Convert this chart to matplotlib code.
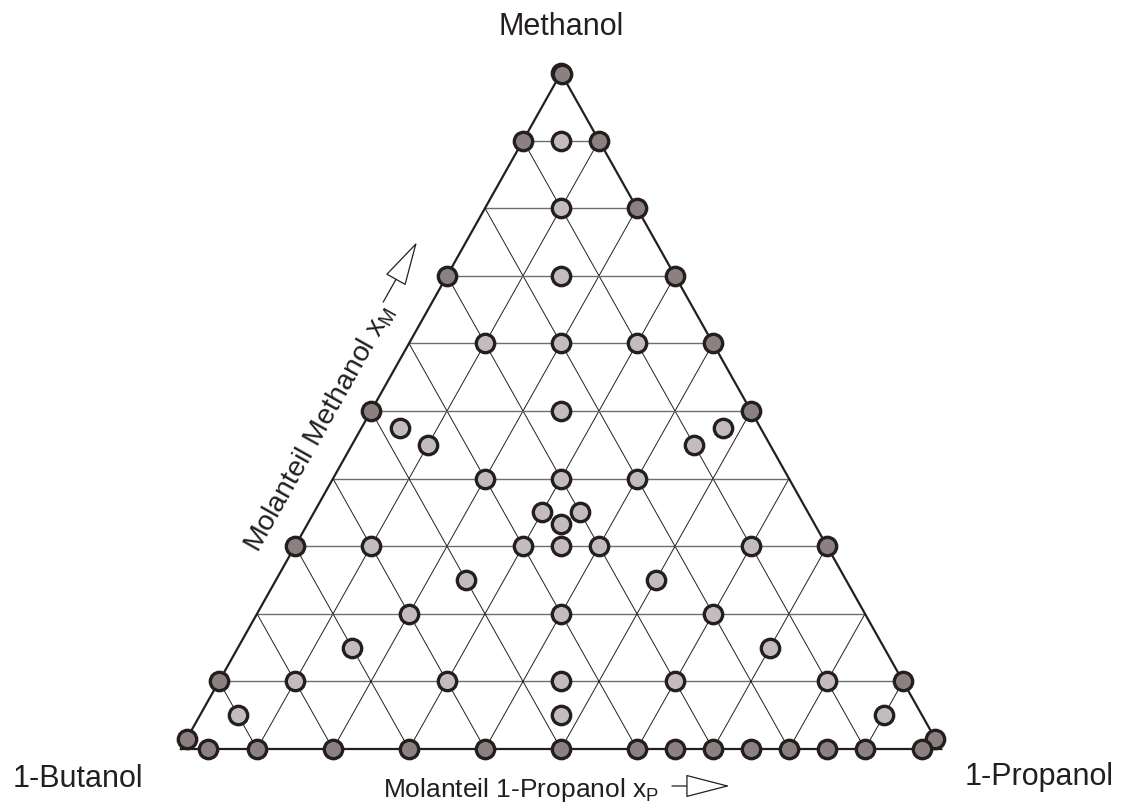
import matplotlib
matplotlib.use("Agg")
import matplotlib.pyplot as plt
from matplotlib.patches import FancyArrowPatch

plt.rcParams['font.family'] = ['Liberation Sans', 'DejaVu Sans']
plt.rcParams['mathtext.fontset'] = 'custom'
plt.rcParams['mathtext.rm'] = 'Liberation Sans'

INK = '#231f20'
DARK = '#8c8080'
LIGHT = '#c4bcbc'

# component labels at the corners
corner_labels = ['Methanol', '1-Butanol', '1-Propanol']

# pure components and binary mixtures on the edges: x_P, x_M
edge_xp = [0.0, 0.002,
           0.0, 0.0, 0.0, 0.0, 0.0, 0.0,
           0.1, 0.2, 0.3, 0.4, 0.5, 0.7, 0.9, 0.985,
           0.035, 0.1, 0.2, 0.3, 0.4, 0.5, 0.6, 0.65, 0.7, 0.75, 0.8, 0.85, 0.9, 0.975]
edge_xm = [1.0, 0.998,
           0.9, 0.7, 0.5, 0.3, 0.1, 0.015,
           0.9, 0.8, 0.7, 0.6, 0.5, 0.3, 0.1, 0.015,
           0.0, 0.0, 0.0, 0.0, 0.0, 0.0, 0.0, 0.0, 0.0, 0.0, 0.0, 0.0, 0.0, 0.0]

# ternary mixtures inside the triangle: x_P, x_M
tern_xp = [0.05, 0.1, 0.15, 0.1, 0.2, 0.3, 0.25,
           0.05, 0.1, 0.45, 0.475,
           0.2, 0.3, 0.4, 0.3, 0.35, 0.333,
           0.1, 0.3, 0.35, 0.4, 0.6, 0.25, 0.5,
           0.2, 0.4, 0.6, 0.15, 0.7,
           0.1, 0.3, 0.45, 0.6, 0.8, 0.05, 0.475, 0.9]
tern_xm = [0.9, 0.8, 0.7, 0.6, 0.6, 0.6, 0.5,
           0.475, 0.45, 0.45, 0.475,
           0.4, 0.4, 0.4, 0.35, 0.35, 0.333,
           0.3, 0.3, 0.3, 0.3, 0.3, 0.25, 0.25,
           0.2, 0.2, 0.2, 0.15, 0.15,
           0.1, 0.1, 0.1, 0.1, 0.1, 0.05, 0.05, 0.05]


def to_xy(xp, xm):
    return [p + m / 2 for p, m in zip(xp, xm)], list(xm)


fig = plt.figure(figsize=(11.27, 8.06), dpi=100)
ax = fig.add_axes([181 / 1127, 57 / 806, 760 / 1127, 676 / 806])
ax.set_xlim(0, 1)
ax.set_ylim(0, 1)
ax.axis('off')

# grid lines every 0.1
for i in range(1, 10):
    f = i / 10
    x, y = to_xy([0, 1 - f], [f, f])
    ax.plot(x, y, color='#6d6d6d', lw=1.0, zorder=1)
    x, y = to_xy([f, f], [0, 1 - f])
    ax.plot(x, y, color=INK, lw=0.7, zorder=1)
    x, y = to_xy([1 - f, 0], [0, 1 - f])
    ax.plot(x, y, color=INK, lw=0.7, zorder=1)

ax.plot([0, 1, 0.5, 0], [0, 0, 1, 0], color=INK, lw=1.6, zorder=2,
        solid_joinstyle='miter', clip_on=False)

x, y = to_xy(tern_xp, tern_xm)
ax.scatter(x, y, s=175, c=LIGHT, edgecolors=INK, linewidths=2.4, zorder=3, clip_on=False)
x, y = to_xy(edge_xp, edge_xm)
ax.scatter(x, y, s=175, c=DARK, edgecolors=INK, linewidths=2.4, zorder=4, clip_on=False)

ax.text(0.5, 1.056, corner_labels[0], fontsize=22, color=INK, ha='center', va='baseline')
ax.text(-0.222, -0.056, corner_labels[1], fontsize=22, color=INK, ha='left', va='baseline')
ax.text(1.0316, -0.053, corner_labels[2], fontsize=22, color=INK, ha='left', va='baseline')

ax.text(0.266, -0.071, r'Molanteil 1-Propanol x$_\mathregular{P}$', fontsize=19, color=INK,
        ha='left', va='baseline')
ax.text(0.182, 0.474, r'Molanteil Methanol x$_\mathregular{M}$', fontsize=20.5, color=INK,
        ha='center', va='center', rotation=60.66, rotation_mode='anchor')

# direction arrows with open heads
for start, end in [((0.646, -0.0547), (0.722, -0.0547)), ((0.266, 0.661), (0.3105, 0.750))]:
    ax.add_patch(FancyArrowPatch(start, end, arrowstyle='-|>,head_width=0.75,head_length=2.9',
                                 mutation_scale=10, fc='white', ec=INK, lw=0.9,
                                 shrinkA=0, shrinkB=0, clip_on=False))

fig.savefig('out.png', dpi=100, facecolor='white')
